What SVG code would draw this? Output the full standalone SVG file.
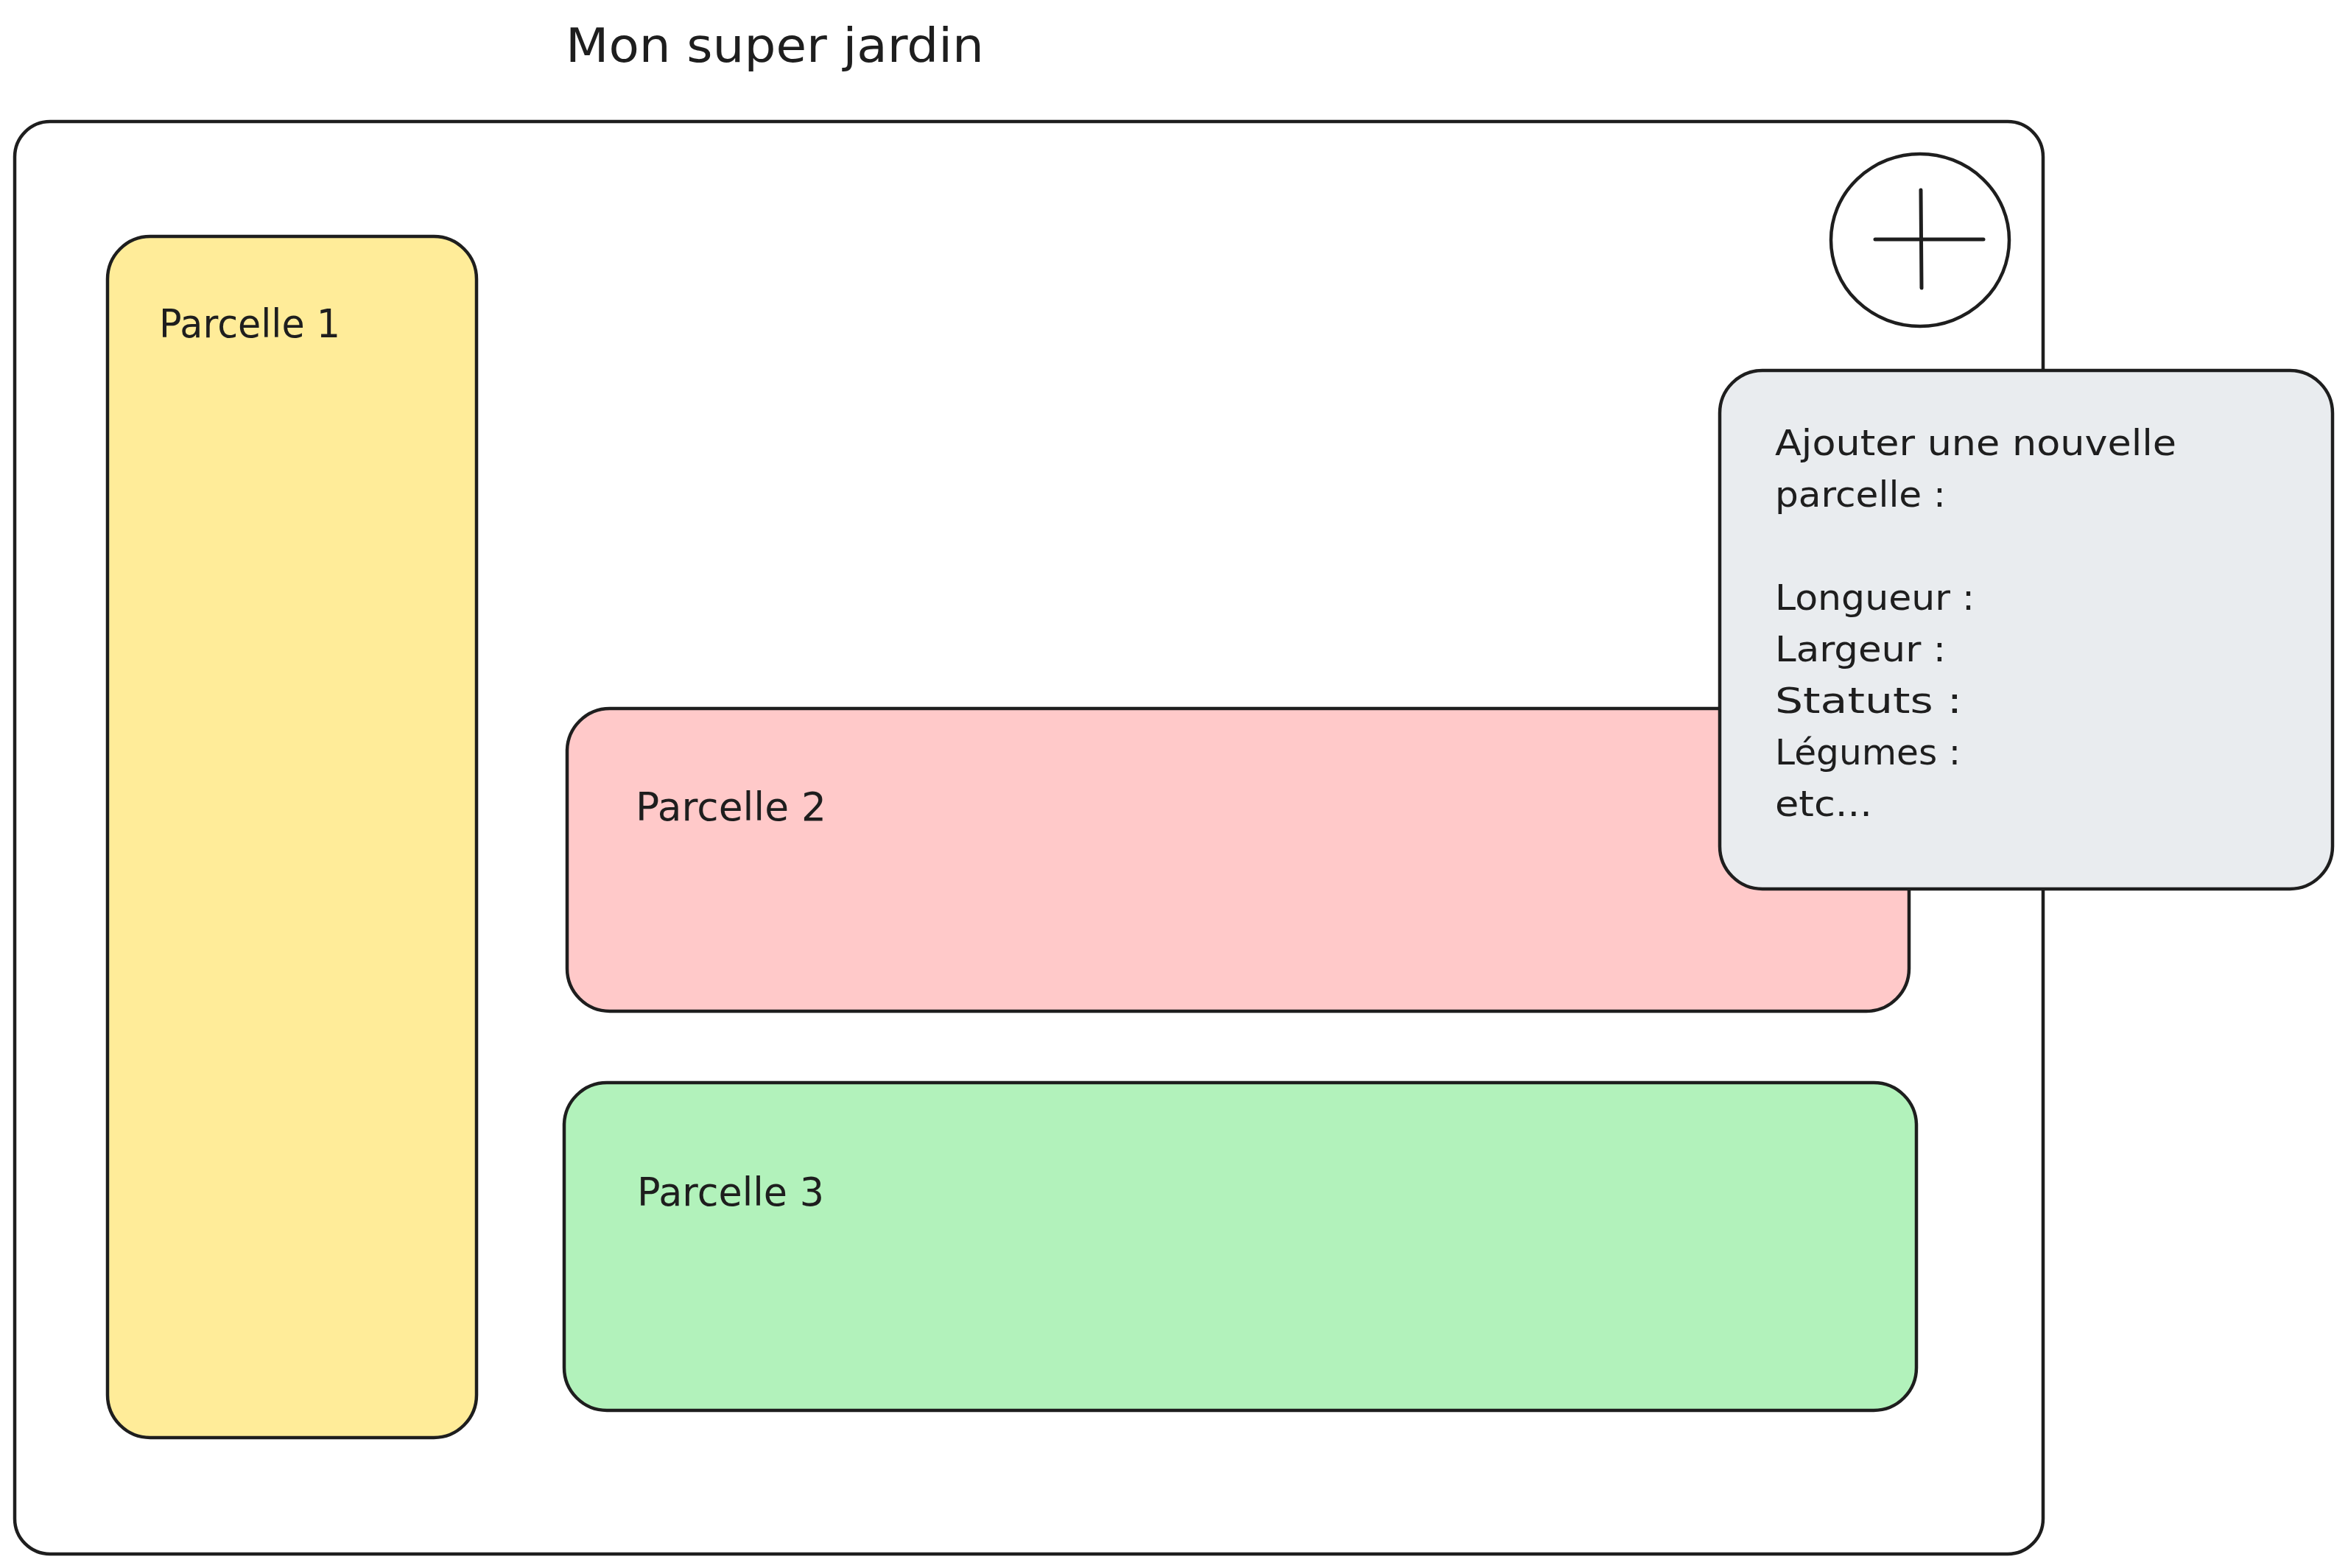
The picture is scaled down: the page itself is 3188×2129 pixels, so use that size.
<svg xmlns="http://www.w3.org/2000/svg" width="3188" height="2129" viewBox="0 0 3188 2129">
<style>
.box{stroke:#1e1e1e;stroke-width:4.5;stroke-linejoin:round}
.t{font-family:"DejaVu Sans","Liberation Sans",sans-serif;fill:#1e1e1e}
.ln{stroke:#1e1e1e;stroke-width:5;stroke-linecap:round;fill:none}
</style>
<rect x="0" y="0" width="3188" height="2129" fill="#ffffff"/>
<g id="title">
<text class="t" x="768" y="84" font-size="64" textLength="568" lengthAdjust="spacingAndGlyphs">Mon super jardin</text>
</g>
<g id="jardin">
<rect class="box" x="20" y="165" width="2754" height="1945" rx="48" ry="48" fill="#ffffff"/>
</g>
<g id="parcelle1">
<rect class="box" x="146" y="321" width="501" height="1631" rx="58" ry="58" fill="#ffec99"/>
<text class="t" x="216" y="458" font-size="54" textLength="246" lengthAdjust="spacingAndGlyphs">Parcelle 1</text>
</g>
<g id="parcelle2">
<rect class="box" x="770" y="962" width="1822" height="411" rx="58" ry="58" fill="#ffc9c9"/>
<text class="t" x="863" y="1114" font-size="54" textLength="259" lengthAdjust="spacingAndGlyphs">Parcelle 2</text>
</g>
<g id="parcelle3">
<rect class="box" x="766" y="1470" width="1836" height="445" rx="58" ry="58" fill="#b2f2bb"/>
<text class="t" x="865" y="1637" font-size="54" textLength="254" lengthAdjust="spacingAndGlyphs">Parcelle 3</text>
</g>
<g id="bouton-ajout">
<ellipse class="box" cx="2607" cy="326" rx="121" ry="117" fill="#ffffff"/>
<line class="ln" x1="2546" y1="325" x2="2693" y2="325"/>
<line class="ln" x1="2608" y1="258" x2="2609" y2="391"/>
</g>
<g id="formulaire">
<rect class="box" x="2335" y="503" width="832" height="704" rx="58" ry="58" fill="#e9ecef"/>
<text class="t" x="2410" y="618" font-size="48" textLength="545" lengthAdjust="spacingAndGlyphs">Ajouter une nouvelle</text>
<text class="t" x="2410" y="688" font-size="48" textLength="232" lengthAdjust="spacingAndGlyphs">parcelle :</text>
<text class="t" x="2410" y="828" font-size="48" textLength="271" lengthAdjust="spacingAndGlyphs">Longueur :</text>
<text class="t" x="2410" y="898" font-size="48" textLength="232" lengthAdjust="spacingAndGlyphs">Largeur :</text>
<text class="t" x="2410" y="968" font-size="48" textLength="254" lengthAdjust="spacingAndGlyphs">Statuts :</text>
<text class="t" x="2410" y="1038" font-size="48" textLength="252" lengthAdjust="spacingAndGlyphs">Légumes :</text>
<text class="t" x="2410" y="1108" font-size="48" textLength="132" lengthAdjust="spacingAndGlyphs">etc...</text>
</g>
<g id="connecteurs"></g>
</svg>
